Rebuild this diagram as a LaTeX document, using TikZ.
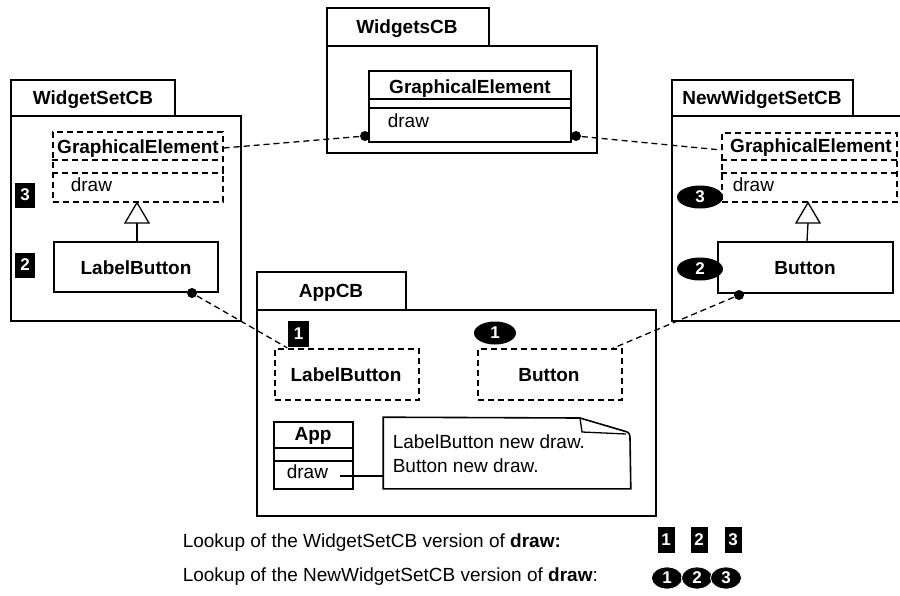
\documentclass[tikz,border=0pt]{standalone}
\usepackage{fontspec}
\setmainfont{Liberation Sans}
\usetikzlibrary{shapes.geometric,calc}
\begin{document}
\begin{tikzpicture}[x=1pt,y=-1pt,line width=1.6pt,
  box/.style={draw,rectangle,inner sep=0pt,fill=white},
  dbox/.style={box,dash pattern=on 6pt off 4pt,line width=1.3pt},
  dl/.style={dash pattern=on 6pt off 4pt,line width=1.3pt},
  bold/.style={font=\fontsize{19}{22}\selectfont\bfseries,inner sep=0pt},
  txt/.style={font=\fontsize{19}{22}\selectfont,inner sep=0pt},
  dot/.style={circle,fill=black,inner sep=0pt,minimum size=10pt},
  sqb/.style={rectangle,fill=black,text=white,inner sep=0pt,font=\fontsize{17}{18}\selectfont\bfseries},
  elb/.style={ellipse,fill=black,text=white,inner sep=0pt,font=\fontsize{17}{18}\selectfont\bfseries},
  tri/.style={draw,fill=white,line width=1.3pt}]
\useasboundingbox (0,0) rectangle (900,595);
\clip (0,0) rectangle (900,595);

% ---------- WidgetSetCB ----------
\node[box,minimum width=164pt,minimum height=36pt] (wsTab) at (93,98) {};
\node[box,minimum width=230pt,minimum height=205pt] (wsBody) at (126,218.5) {};
\node[bold,anchor=base] at (93,104) {WidgetSetCB};
\node[dbox,minimum width=170pt,minimum height=70pt] (wsGE) at (138,167) {};
\draw[dl] (wsGE.west |- 0,160) -- (wsGE.east |- 0,160);
\draw[dl] (wsGE.west |- 0,173) -- (wsGE.east |- 0,173);
\node[bold,anchor=base] at (138,153) {GraphicalElement};
\node[txt,anchor=base west] at (70,191) {draw};
\node[box,minimum width=164pt,minimum height=50pt] (wsLB) at (136,267) {};
\node[bold,anchor=base] at (136,274) {LabelButton};
\draw[line width=1.3pt] (137,223) -- (wsLB.north -| 137,0);
\draw[tri] (wsGE.south -| 137,0) -- (125,223) -- (149,223) -- cycle;
\node[dot] (d3) at (192,293) {};
\node[sqb,minimum width=20pt,minimum height=25pt] (s3) at (25,195) {3};
\node[sqb,minimum width=20pt,minimum height=25pt] (s2) at (25,265) {2};

% ---------- WidgetsCB ----------
\node[box,minimum width=162pt,minimum height=38pt] (wTab) at (408,27) {};
\node[box,minimum width=270pt,minimum height=107pt] (wBody) at (462,99.5) {};
\node[bold,anchor=base] at (407,33) {WidgetsCB};
\node[box,minimum width=202pt,minimum height=71pt] (wGE) at (470,106.5) {};
\draw (wGE.west |- 0,99) -- (wGE.east |- 0,99);
\draw (wGE.west |- 0,108) -- (wGE.east |- 0,108);
\node[bold,anchor=base] at (470,93) {GraphicalElement};
\node[txt,anchor=base west] at (387,127) {draw};
\node[dot] (d1) at (365,136) {};
\node[dot] (d2) at (576,136) {};

% ---------- NewWidgetSetCB ----------
\node[box,minimum width=181pt,minimum height=36pt] (nTab) at (762.5,98) {};
\node[box,minimum width=238pt,minimum height=205pt] (nBody) at (791,218.5) {};
\node[bold,anchor=base] at (762,104) {NewWidgetSetCB};
\node[dbox,minimum width=175pt,minimum height=69pt] (nGE) at (809.5,167.5) {};
\draw[dl] (nGE.west |- 0,160) -- (nGE.east |- 0,160);
\draw[dl] (nGE.west |- 0,173) -- (nGE.east |- 0,173);
\node[bold,anchor=base] at (811,152) {GraphicalElement};
\node[txt,anchor=base west] at (732,191) {draw};
\node[box,minimum width=175pt,minimum height=51pt] (nBtn) at (805.5,267.5) {};
\node[bold,anchor=base] at (805,274) {Button};
\draw[line width=1.3pt] (808,223) -- (nBtn.north -| 807,0);
\draw[tri] (nGE.south -| 808,0) -- (796,223) -- (820,223) -- cycle;
\node[dot] (d4) at (739,295) {};
\node[elb,minimum width=46pt,minimum height=23pt] (e3) at (700,197) {3};
\node[elb,minimum width=46pt,minimum height=23pt] (e2) at (700,269) {2};

% ---------- AppCB ----------
\node[box,minimum width=149pt,minimum height=38pt] (aTab) at (331.5,291) {};
\node[box,minimum width=399pt,minimum height=206pt] (aBody) at (456.5,413) {};
\node[bold,anchor=base] at (331,297) {AppCB};
\node[dbox,minimum width=144pt,minimum height=51pt] (aLB) at (347,374.5) {};
\node[bold,anchor=base] at (346,381) {LabelButton};
\node[dbox,minimum width=144pt,minimum height=51pt] (aBtn) at (550,374.5) {};
\node[bold,anchor=base] at (549,381) {Button};
\node[sqb,minimum width=21pt,minimum height=26pt] (s1) at (298.5,334) {1};
\node[elb,minimum width=42pt,minimum height=23pt] (e1) at (495,333) {1};
\node[box,minimum width=79pt,minimum height=67pt] (app) at (313.5,455.5) {};
\draw (app.west |- 0,448) -- (app.east |- 0,448);
\draw (app.west |- 0,461) -- (app.east |- 0,461);
\node[bold,anchor=base] at (313,440) {App};
\node[txt,anchor=base west] (appdraw) at (286,478) {draw};
\node[inner sep=0pt,minimum width=246pt,minimum height=70pt] (note) at (507,453) {};
\draw[fill=white] (note.south west) -- (note.north west) -- (580,418) -- (624,431)
  .. controls (629,432) and (630,434) .. (630,438) -- (note.south east) -- cycle;
\draw[line width=1.3pt] (580,418) -- (582,432) -- (626,434);
\node[txt,anchor=base west] at (392,448) {LabelButton new draw.};
\node[txt,anchor=base west] at (392,472) {Button new draw.};
\draw[line width=1.3pt] (340,476) -- (note.west |- 0,476);

% ---------- connectors ----------
\draw[dl] (wsGE.east |- 0,148) -- (d1);
\draw[dl] (d2) -- (nGE.west |- 0,150);
\draw[dl] (d3) -- (s1.south west);
\draw[dl] (d4) -- ($(aBtn.north east)+(-10,0)$);

% ---------- legend ----------
\node[txt,anchor=base west] (l1) at (182,547) {Lookup of the WidgetSetCB version of \textbf{draw:}};
\node[txt,anchor=base west] (l2) at (182,581) {Lookup of the NewWidgetSetCB version of \textbf{draw}:};
\node[sqb,minimum width=17pt,minimum height=26pt] (b1) at (666,540) {1};
\node[sqb,minimum width=17pt,minimum height=26pt] (b2) at (699,540) {2};
\node[sqb,minimum width=17pt,minimum height=26pt] (b3) at (733,540) {3};
\node[elb,draw=white,line width=0.8pt,minimum width=31pt,minimum height=22pt] (c1) at (667,578) {1};
\node[elb,draw=white,line width=0.8pt,minimum width=31pt,minimum height=22pt] (c2) at (697,578) {2};
\node[elb,draw=white,line width=0.8pt,minimum width=31pt,minimum height=22pt] (c3) at (726,578) {3};
\end{tikzpicture}
\end{document}
